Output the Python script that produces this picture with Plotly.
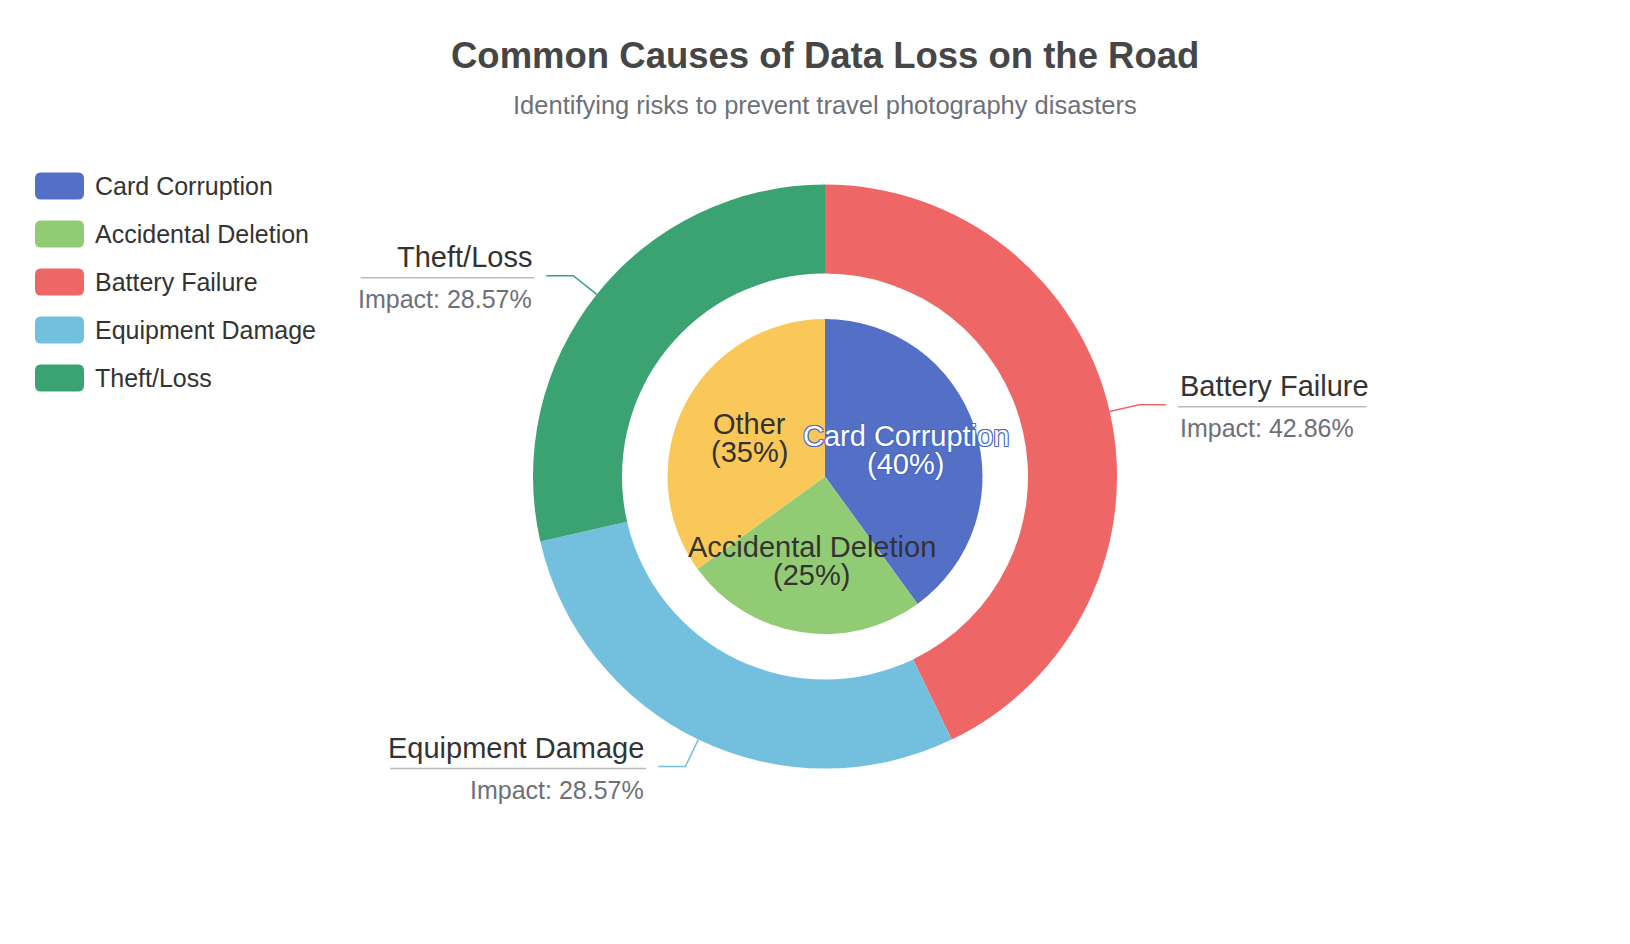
import math
import plotly.graph_objects as go

# ---------------- data ----------------
inner_labels = ["Card Corruption", "Accidental Deletion", "Other"]
inner_values = [40, 25, 35]
inner_colors = ["#5470c6", "#91cc75", "#fac858"]

outer_labels = ["Battery Failure", "Equipment Damage", "Theft/Loss"]
outer_values = [30, 20, 20]
outer_colors = ["#ee6666", "#73c0de", "#3ba272"]

legend_labels = ["Card Corruption", "Accidental Deletion", "Battery Failure",
                 "Equipment Damage", "Theft/Loss"]
legend_colors = ["#5470c6", "#91cc75", "#ee6666", "#73c0de", "#3ba272"]

title_text = "Common Causes of Data Loss on the Road"
subtitle_text = "Identifying risks to prevent travel photography disasters"

# ---------------- layout constants ----------------
W, H = 1630, 944
CX, CY = 825, 476.5
R_OUT, R_HOLE, R_IN = 292, 203, 157.5
FONT = "Liberation Sans, Arial, sans-serif"
NAME_SIZE, IMPACT_SIZE = 29, 25

HELV = {' ': 278, 'A': 667, 'B': 667, 'C': 722, 'D': 722, 'E': 667, 'F': 611,
        'I': 278, 'L': 556, 'T': 611, 'R': 722, 'a': 556, 'c': 500, 'd': 556,
        'e': 556, 'f': 278, 'g': 556, 'h': 556, 'i': 222, 'k': 500, 'l': 222,
        'm': 833, 'n': 556, 'o': 556, 'p': 556, 'q': 556, 'r': 333, 's': 500,
        't': 278, 'u': 556, 'v': 500, 'y': 500, '/': 278, ':': 278, '.': 278,
        '%': 889, '(': 333, ')': 333}


def text_w(s, size):
    return sum(HELV.get(ch, 556) for ch in s) / 1000 * size


def domain(r):
    return dict(x=[(CX - r) / W, (CX + r) / W],
                y=[(H - CY - r) / H, (H - CY + r) / H])


fig = go.Figure()
fig.add_trace(go.Pie(labels=outer_labels, values=outer_values, hole=R_HOLE / R_OUT,
                     sort=False, direction="clockwise", rotation=0,
                     marker=dict(colors=outer_colors), textinfo="none",
                     domain=domain(R_OUT), showlegend=False, hoverinfo="label+percent"))
fig.add_trace(go.Pie(labels=inner_labels, values=inner_values,
                     sort=False, direction="clockwise", rotation=0,
                     marker=dict(colors=inner_colors), textinfo="none",
                     domain=domain(R_IN), showlegend=False, hoverinfo="label+percent"))

shapes = []
annotations = []

# outer labels with leader lines
tot = sum(outer_values)
cum = 0
for lab, val, col in zip(outer_labels, outer_values, outer_colors):
    mid = (cum + val / 2) / tot * 2 * math.pi
    cum += val
    sx, sy = math.sin(mid), -math.cos(mid)
    ax, ay = CX + R_OUT * sx, CY + R_OUT * sy
    ex, ey = ax + 30 * sx, ay + 30 * sy
    side = 1 if sx > 0 else -1
    hx = ex + side * 27
    tx = hx + side * 12
    shapes.append(dict(type="path", xref="x", yref="y",
                       path=f"M{ax},{ay} L{ex},{ey} L{hx},{ey}",
                       line=dict(color=col, width=1.5)))
    pct = f"Impact: {val / tot * 100:.2f}%"
    uw = max(text_w(lab, NAME_SIZE), text_w(pct, IMPACT_SIZE))
    uy = ey + 2
    shapes.append(dict(type="line", xref="x", yref="y", x0=tx, x1=tx + side * uw,
                       y0=uy, y1=uy, line=dict(color="#bbbbbb", width=1.5)))
    anchor = "left" if side > 0 else "right"
    annotations.append(dict(x=tx, y=uy - 21, xref="x", yref="y", text=lab,
                            showarrow=False, xanchor=anchor, yanchor="middle",
                            font=dict(family=FONT, size=NAME_SIZE, color="#333333")))
    annotations.append(dict(x=tx, y=uy + 21, xref="x", yref="y", text=pct,
                            showarrow=False, xanchor=anchor, yanchor="middle",
                            font=dict(family=FONT, size=IMPACT_SIZE, color="#6e7079")))

# inner labels
tot = sum(inner_values)
cum = 0
for lab, val, col in zip(inner_labels, inner_values, inner_colors):
    mid = (cum + val / 2) / tot * 2 * math.pi
    cum += val
    px = CX + 0.54 * R_IN * math.sin(mid)
    py = CY - 0.54 * R_IN * math.cos(mid)
    if lab == "Card Corruption":
        f = dict(family=FONT, size=29, color="#ffffff",
                 shadow="1px 1px 0 #4a66c4, -1px -1px 0 #4a66c4, 1px -1px 0 #4a66c4, -1px 1px 0 #4a66c4")
    else:
        f = dict(family=FONT, size=29, color="#333333")
    annotations.append(dict(x=px, y=py - 14, xref="x", yref="y", text=lab,
                            showarrow=False, xanchor="center", yanchor="middle", font=f))
    annotations.append(dict(x=px, y=py + 14, xref="x", yref="y",
                            text=f"({val / tot * 100:.0f}%)",
                            showarrow=False, xanchor="center", yanchor="middle", font=f))

# legend
for i, (lab, col) in enumerate(zip(legend_labels, legend_colors)):
    yc = 186 + 48 * i
    x0, x1, y0, y1, rr = 35, 84, yc - 13.5, yc + 13.5, 6
    path = (f"M{x0 + rr},{y0} L{x1 - rr},{y0} Q{x1},{y0} {x1},{y0 + rr} "
            f"L{x1},{y1 - rr} Q{x1},{y1} {x1 - rr},{y1} L{x0 + rr},{y1} "
            f"Q{x0},{y1} {x0},{y1 - rr} L{x0},{y0 + rr} Q{x0},{y0} {x0 + rr},{y0} Z")
    shapes.append(dict(type="path", xref="x", yref="y", path=path,
                       fillcolor=col, line=dict(width=0)))
    annotations.append(dict(x=93, y=yc, xref="x", yref="y", text=lab, showarrow=False,
                            xanchor="left", yanchor="middle",
                            font=dict(family=FONT, size=25, color="#333333")))

# title / subtitle
annotations.append(dict(x=CX, y=55, xref="x", yref="y", text=f"<b>{title_text}</b>",
                        showarrow=False, xanchor="center", yanchor="middle",
                        font=dict(family=FONT, size=36.5, color="#464646")))
annotations.append(dict(x=CX, y=105, xref="x", yref="y", text=subtitle_text,
                        showarrow=False, xanchor="center", yanchor="middle",
                        font=dict(family=FONT, size=25.5, color="#6e7079")))

fig.update_layout(
    width=W, height=H, margin=dict(l=0, r=0, t=0, b=0),
    paper_bgcolor="white", plot_bgcolor="white", showlegend=False,
    xaxis=dict(range=[0, W], visible=False, fixedrange=True),
    yaxis=dict(range=[H, 0], visible=False, fixedrange=True),
    shapes=shapes, annotations=annotations,
)

fig.write_html("out.html", config={"displayModeBar": False},
               post_script="document.body.style.margin='0';document.body.style.overflow='hidden';")
